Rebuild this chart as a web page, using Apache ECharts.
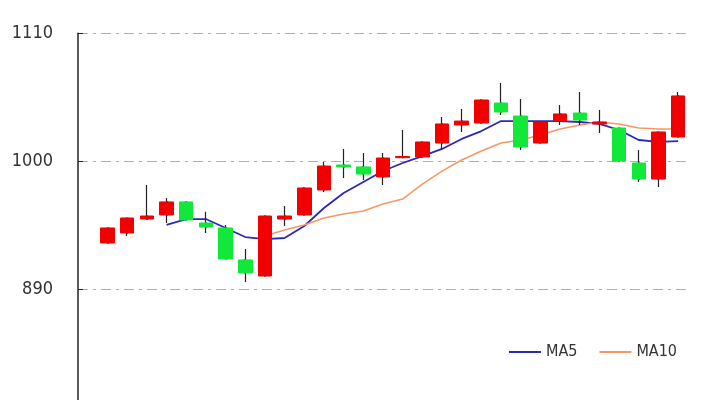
<!DOCTYPE html>
<html>
<head>
<meta charset="utf-8">
<script src="https://cdn.jsdelivr.net/npm/echarts@6/dist/echarts.min.js"></script>
<style>
  html, body { margin: 0; padding: 0; background: #fff; }
  #chart { width: 720px; height: 400px; }
</style>
</head>
<body>
<div id="chart"></div>
<script>
// 30 trading days, first slot on the axis is left empty
const days = ['', 'D1', 'D2', 'D3', 'D4', 'D5', 'D6', 'D7', 'D8', 'D9', 'D10',
  'D11', 'D12', 'D13', 'D14', 'D15', 'D16', 'D17', 'D18', 'D19', 'D20',
  'D21', 'D22', 'D23', 'D24', 'D25', 'D26', 'D27', 'D28', 'D29', 'D30'];

const opens = [929.6, 938.2, 950.2, 953.7, 964.9, 946.8, 942.5, 915.0, 901.2, 950.2,
  953.7, 975.2, 996.7, 995.0, 986.4, 1003.0, 1003.6, 1015.6, 1031.1, 1032.8,
  1050.0, 1038.8, 1015.6, 1034.5, 1041.4, 1032.0, 1028.5, 998.4, 984.6, 1020.8];
const closes = [942.5, 951.1, 952.8, 964.9, 949.4, 943.3, 915.8, 903.8, 952.8, 952.8,
  976.9, 995.8, 995.0, 988.9, 1002.7, 1004.0, 1016.5, 1032.0, 1034.5, 1052.6,
  1042.3, 1012.2, 1033.7, 1040.6, 1035.4, 1033.7, 1000.1, 984.6, 1025.1, 1056.1];
const lows = [929.6, 935.6, 950.2, 946.8, 949.4, 938.2, 915.8, 896.0, 901.2, 944.2,
  953.7, 973.5, 985.5, 983.8, 979.5, 1003.0, 1003.6, 1009.6, 1025.1, 1032.8,
  1039.7, 1009.6, 1015.6, 1031.1, 1031.1, 1024.2, 1000.1, 982.1, 977.8, 1020.8];
const highs = [942.5, 951.1, 979.5, 968.3, 964.9, 956.4, 945.1, 924.4, 952.8, 961.4,
  976.9, 999.3, 1010.5, 1007.0, 1007.0, 1026.8, 1016.5, 1038.0, 1044.9, 1052.6,
  1067.2, 1053.5, 1033.7, 1048.3, 1059.5, 1044.0, 1028.5, 1009.6, 1025.1, 1059.5];

const ma5 = ['-', '-', '-', 945.1, 950.2, 950.2, 942.5, 934.7, 933.0, 933.9,
  944.2, 959.7, 972.6, 982.1, 991.5, 998.4, 1004.4, 1010.5, 1019.1, 1025.9,
  1034.5, 1034.5, 1034.5, 1034.5, 1033.7, 1032.0, 1026.8, 1018.2, 1016.5, 1017.3];
const ma10 = ['-', '-', '-', '-', '-', '-', '-', '-', 935.6, 940.8,
  945.1, 951.1, 954.5, 957.1, 963.1, 967.4, 980.3, 991.5, 1001.0, 1008.7,
  1015.6, 1018.2, 1022.5, 1027.7, 1031.1, 1033.7, 1032.0, 1028.5, 1027.7, 1027.7];

const yTicks = [890, 1000, 1110];

const font = "'Liberation Sans Narrow', 'DejaVu Sans Condensed', 'Liberation Sans', sans-serif";

// full OHLC -> thin black wick; body-only copy drawn over it in red / green
const wickData = ['-'].concat(opens.map((o, i) => [o, closes[i], lows[i], highs[i]]));
const bodyData = ['-'].concat(opens.map((o, i) => [o, closes[i], Math.min(o, closes[i]), Math.max(o, closes[i])]));

const lineIcon = 'path://M0,0 H32 V2 H0 Z';

const chart = echarts.init(document.getElementById('chart'));
chart.setOption({
  animation: false,
  backgroundColor: '#fff',
  grid: { left: 78, right: 32, top: 33.3, bottom: 0 },
  legend: {
    data: [{ name: 'MA5', icon: lineIcon }, { name: 'MA10', icon: lineIcon }],
    left: 504,
    top: 339,
    itemWidth: 32,
    itemHeight: 2,
    itemGap: 22,
    textStyle: { fontFamily: font, fontSize: 16, color: '#333' },
  },
  xAxis: {
    type: 'category',
    data: days,
    boundaryGap: true,
    axisLine: { show: false },
    axisTick: { show: false },
    axisLabel: { show: false },
    splitLine: { show: false },
  },
  yAxis: {
    type: 'value',
    min: 794.5,
    max: 1110,
    axisLine: { show: true, lineStyle: { color: '#222', width: 1.5 } },
    axisTick: { show: true, inside: true, length: 5, customValues: yTicks, lineStyle: { color: '#222' } },
    axisLabel: {
      customValues: yTicks,
      formatter: (v) => String(v),
      margin: 25,
      fontFamily: font,
      fontSize: 18,
      color: '#333',
    },
    splitLine: {
      show: true,
      lineStyle: { color: '#b0b0b0', width: 1, type: [10, 5, 3, 5] },
    },
  },
  series: [
    {
      name: 'MA5',
      type: 'line',
      data: ['-'].concat(ma5),
      symbol: 'none',
      z: 1,
      lineStyle: { color: '#2a2ab8', width: 1.8 },
      itemStyle: { color: '#2a2ab8' },
    },
    {
      name: 'MA10',
      type: 'line',
      data: ['-'].concat(ma10),
      symbol: 'none',
      z: 1,
      lineStyle: { color: '#f39a62', width: 1.5 },
      itemStyle: { color: '#f39a62' },
    },
    {
      name: 'wick',
      type: 'candlestick',
      data: wickData,
      barWidth: 1.5,
      z: 2,
      itemStyle: {
        color: '#222', color0: '#222',
        borderColor: '#222', borderColor0: '#222',
        borderWidth: 1.2,
      },
    },
    {
      name: 'body',
      type: 'candlestick',
      data: bodyData,
      barWidth: 14,
      z: 3,
      itemStyle: {
        color: '#f20000', color0: '#12e83a',
        borderColor: '#f20000', borderColor0: '#12e83a',
        borderWidth: 1,
      },
    },
  ],
});
</script>
</body>
</html>
